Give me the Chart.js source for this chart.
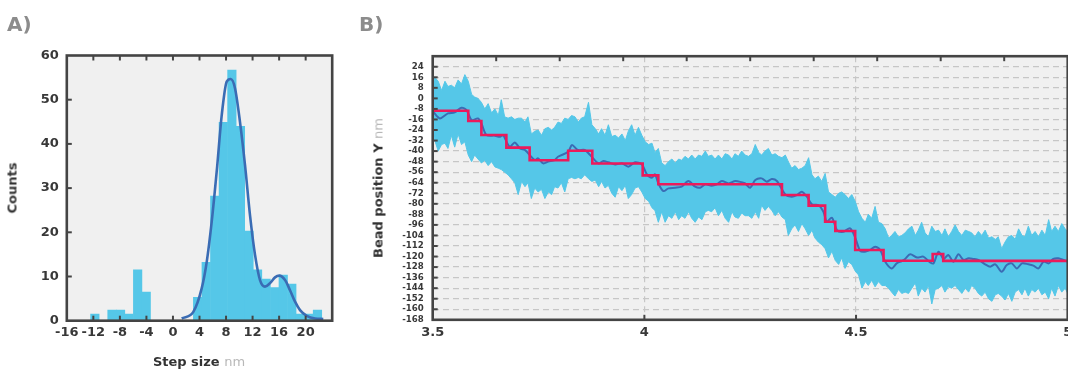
<!DOCTYPE html>
<html lang="en">
<head>
<meta charset="UTF-8">
<title>Step size histogram and bead trace</title>
<style>
  body { margin: 0; width: 1068px; height: 369px; overflow: hidden; background: #fff; position: relative; font-family: 'DejaVu Sans', sans-serif; }
  canvas { position: absolute; top: 0; }
  #histChart { left: 0; }
  #traceChart { left: 340px; }
  .panel { position: absolute; top: 14px; font-size: 20px; line-height: 20px; font-weight: bold; color: #8c8c8c; }
  .title { position: absolute; font-size: 13px; line-height: 13px; font-weight: bold; color: #333; white-space: nowrap; transform: translate(-50%, -50%); }
  .title.rot { transform: translate(-50%, -50%) rotate(-90deg); }
  .title .unit { font-weight: normal; color: #b8b8b8; }
</style>
</head>
<body>
<canvas id="histChart" width="340" height="369"></canvas>
<canvas id="traceChart" width="728" height="369"></canvas>

<div class="panel" style="left:7px">A)</div>
<div class="panel" style="left:359px">B)</div>
<div class="title rot" style="left:12px; top:188px">Counts</div>
<div class="title" style="left:199px; top:361px">Step size <span class="unit">nm</span></div>
<div class="title rot" style="left:378px; top:188px">Bead position Y <span class="unit">nm</span></div>

<script src="https://cdn.jsdelivr.net/npm/chart.js@4.4.1/dist/chart.umd.min.js"></script>
<script>
// ---- panel A: step size histogram + fit
const binCenters = [-11.77, -10.47, -9.19, -7.90, -6.61, -5.32, -4.03, -2.74, -1.45, -0.16, 1.14, 2.43,
  3.72, 5.01, 6.30, 7.59, 8.88, 10.17, 11.46, 12.75, 14.04, 15.33, 16.62, 17.91, 19.20, 20.49, 21.78];
const binCounts = [1.5, 0, 2.4, 2.4, 1.5, 11.5, 6.5, 0, 0, 0, 0, 0,
  5.3, 13.2, 28.2, 44.9, 56.7, 44.0, 20.3, 11.5, 9.4, 7.5, 10.3, 8.3, 1.5, 1.5, 2.4];
const fitX = [1.32, 3.07, 4.33, 5.09, 5.84, 6.59, 7.35, 8.10, 8.70, 9.35, 10.10, 10.86, 11.61,
  12.37, 13.12, 13.87, 14.63, 15.38, 16.03, 16.89, 17.64, 18.40, 19.15, 20.16, 21.41, 22.66];
const fitY = [0.5, 2.0, 7.3, 13.3, 22.4, 33.7, 46.5, 54.1, 54.7, 52.6, 45.0, 35.2, 23.9,
  14.9, 9.2, 7.7, 8.5, 9.8, 10.2, 9.2, 6.9, 4.3, 2.4, 1.1, 0.5, 0.4];

// ---- panel B: bead trace (raw band, smoothed, step fit)
const stepTimes = [3.5, 3.584, 3.615, 3.674, 3.729, 3.820, 3.877, 3.996, 4.033, 4.325, 4.388, 4.427, 4.451, 4.498, 4.565, 4.681, 4.706, 5.0];
const stepLevels = [-9.4, -17.2, -27.8, -37.4, -47.0, -39.7, -49.4, -58.4, -65.2, -73.3, -81.4, -93.6, -100.6, -115.0, -123.2, -118.1, -123.3, -123.3];

const smoothTimes = [3.501, 3.517, 3.536, 3.552, 3.568, 3.580, 3.592, 3.607, 3.615, 3.627,
  3.647, 3.659, 3.666, 3.682, 3.694, 3.706, 3.718, 3.741, 3.749, 3.761,
  3.773, 3.788, 3.796, 3.820, 3.829, 3.843, 3.859, 3.872, 3.892, 3.903,
  3.915, 3.931, 3.947, 3.962, 3.978, 3.994, 4.006, 4.018, 4.025, 4.033,
  4.045, 4.057, 4.073, 4.088, 4.104, 4.120, 4.132, 4.144, 4.159, 4.171,
  4.183, 4.199, 4.215, 4.230, 4.238, 4.250, 4.262, 4.277, 4.289, 4.301,
  4.313, 4.333, 4.348, 4.360, 4.372, 4.384, 4.396, 4.411, 4.423, 4.431,
  4.443, 4.455, 4.470, 4.486, 4.498, 4.510, 4.521, 4.533, 4.545, 4.557,
  4.569, 4.584, 4.596, 4.608, 4.616, 4.628, 4.644, 4.659, 4.675, 4.683,
  4.695, 4.707, 4.718, 4.730, 4.742, 4.754, 4.766, 4.777, 4.789, 4.805,
  4.817, 4.829, 4.844, 4.856, 4.868, 4.880, 4.892, 4.907, 4.919, 4.931,
  4.943, 4.955, 4.966, 4.978, 4.990, 5.000];
const smoothValues = [-10.1, -15.2, -11.4, -10.6, -7.1, -8.9, -16.5, -15.2, -19.0, -27.8,
  -28.3, -29.1, -27.8, -36.7, -33.4, -37.9, -39.2, -46.8, -45.5, -49.3,
  -48.0, -46.8, -44.3, -40.5, -35.4, -39.2, -39.2, -43.0, -49.3, -47.5,
  -48.5, -50.1, -49.3, -51.8, -48.5, -50.1, -57.6, -60.2, -57.6, -64.5,
  -70.3, -68.3, -67.8, -67.0, -62.7, -67.0, -67.8, -65.2, -66.2, -65.2,
  -62.7, -64.5, -62.7, -63.7, -64.5, -67.8, -62.0, -60.7, -63.2, -61.2,
  -62.7, -72.9, -74.6, -73.4, -70.8, -74.6, -80.4, -80.9, -86.0, -93.6,
  -90.5, -99.9, -101.2, -98.6, -105.7, -115.8, -116.3, -115.0, -112.5, -115.0,
  -123.9, -129.0, -125.2, -123.4, -121.8, -118.3, -120.8, -120.1, -124.4, -125.2,
  -116.3, -121.8, -118.8, -123.9, -118.3, -122.6, -121.3, -121.8, -122.6, -125.9,
  -127.7, -125.9, -131.5, -126.4, -125.2, -129.0, -125.2, -125.9, -126.9, -129.0,
  -123.9, -125.2, -121.8, -121.3, -122.6, -123.9];

const bandTimes = [3.500, 3.505, 3.513, 3.521, 3.529, 3.536, 3.544, 3.552, 3.560, 3.568,
  3.576, 3.584, 3.592, 3.599, 3.607, 3.615, 3.623, 3.631, 3.639, 3.647,
  3.655, 3.662, 3.670, 3.678, 3.686, 3.694, 3.702, 3.710, 3.718, 3.725,
  3.733, 3.741, 3.749, 3.757, 3.765, 3.773, 3.781, 3.788, 3.796, 3.804,
  3.812, 3.820, 3.828, 3.836, 3.844, 3.851, 3.859,
  3.868, 3.876, 3.884, 3.892, 3.899, 3.907, 3.915, 3.923, 3.931, 3.939,
  3.947, 3.955, 3.962, 3.970, 3.978, 3.986, 3.994, 4.002, 4.010, 4.018,
  4.025, 4.033, 4.041, 4.049, 4.057, 4.065, 4.073, 4.081, 4.088, 4.096,
  4.104, 4.112, 4.120, 4.128, 4.136, 4.144, 4.151, 4.159, 4.167, 4.175,
  4.183, 4.191, 4.199, 4.207, 4.214, 4.222, 4.230, 4.238,
  4.246, 4.254, 4.262, 4.270, 4.277, 4.285, 4.293, 4.301, 4.309, 4.317,
  4.325, 4.333, 4.340, 4.348, 4.356, 4.364, 4.372, 4.380, 4.388, 4.396,
  4.403, 4.411, 4.419, 4.427, 4.435, 4.443, 4.451, 4.459, 4.466, 4.474,
  4.482, 4.490, 4.498, 4.506, 4.514, 4.522, 4.529, 4.537, 4.545, 4.553,
  4.561, 4.569, 4.577, 4.584, 4.592, 4.600, 4.608, 4.616,
  4.624, 4.632, 4.640, 4.647, 4.655, 4.663, 4.671, 4.679, 4.687, 4.695,
  4.703, 4.710, 4.718, 4.726, 4.734, 4.742, 4.750, 4.758, 4.766, 4.773,
  4.781, 4.789, 4.797, 4.805, 4.813, 4.821, 4.829, 4.836, 4.844, 4.852,
  4.860, 4.868, 4.876, 4.884, 4.892, 4.899, 4.907, 4.915, 4.923, 4.931,
  4.939, 4.947, 4.955, 4.962, 4.970, 4.978, 4.986, 4.994, 5.000];
const bandUpper = [8, 16, 13, 6, 13, 9, 10, 8, 14, 11,
  18, 13, 3, 1, 0, -3, -8, -4, -11, -8,
  -13, -1, -14, -15, -14, -16, -15, -15, -18, -14,
  -27, -25, -24, -28, -23, -22, -24, -22, -18, -19,
  -15, -16, -13, -14, -18, -15, -14,
  -3, -20, -23, -27, -23, -28, -20, -29, -28, -30,
  -27, -32, -25, -20, -28, -22, -28, -33, -35, -34,
  -41, -38, -49, -51, -48, -46, -49, -46, -47, -44,
  -46, -43, -46, -43, -44, -40, -44, -43, -46, -43,
  -46, -42, -43, -46, -42, -44, -40, -43,
  -44, -42, -35, -41, -43, -40, -38, -43, -42, -44,
  -45, -43, -48, -53, -51, -54, -53, -51, -45, -58,
  -61, -59, -63, -57, -71, -73, -75, -72, -71, -73,
  -76, -73, -78, -86, -91, -94, -88, -91, -82, -94,
  -95, -99, -106, -104, -101, -105, -104, -102,
  -99, -97, -104, -100, -94, -102, -105, -97, -101, -100,
  -104, -99, -105, -101, -96, -101, -104, -100, -101, -102,
  -105, -101, -104, -100, -106, -105, -107, -105, -114, -109,
  -105, -104, -107, -99, -104, -105, -97, -104, -101, -105,
  -100, -104, -92, -101, -97, -101, -95, -99, -101];
const bandLower = [-25, -32, -40, -35, -34, -38, -28, -37, -27, -35,
  -33, -43, -48, -43, -46, -49, -47, -51, -48, -52,
  -53, -54, -56, -58, -61, -64, -73, -63, -67, -64,
  -76, -68, -71, -69, -76, -71, -73, -67, -68, -64,
  -71, -61, -60, -61, -60, -61, -58,
  -61, -63, -62, -67, -63, -68, -66, -72, -75, -67,
  -70, -66, -76, -73, -68, -67, -71, -76, -78, -83,
  -85, -94, -86, -94, -89, -91, -86, -92, -89, -91,
  -86, -91, -94, -90, -92, -86, -85, -86, -83, -89,
  -85, -91, -94, -86, -90, -91, -87, -89,
  -89, -91, -86, -91, -81, -85, -82, -85, -89, -86,
  -90, -92, -104, -99, -96, -101, -95, -99, -104, -100,
  -106, -109, -111, -114, -121, -116, -123, -126, -121, -129,
  -124, -126, -131, -134, -144, -139, -142, -138, -143, -139,
  -142, -142, -144, -147, -150, -145, -148, -147,
  -148, -144, -140, -150, -144, -147, -142, -156, -145, -144,
  -142, -147, -143, -144, -142, -145, -148, -144, -147, -142,
  -144, -148, -150, -147, -152, -154, -149, -148, -150, -153,
  -148, -154, -147, -145, -149, -144, -150, -145, -147, -144,
  -149, -147, -152, -144, -150, -142, -147, -144, -148];

const lightBlue = '#55c7e8';
const darkBlue = '#3a6cb4';
const stepRed = '#ec1a5b';

Chart.defaults.font.family = "'DejaVu Sans', sans-serif";
Chart.defaults.font.weight = 'bold';
Chart.defaults.color = '#383838';

const pairs = (xs, ys) => xs.map((x, i) => ({ x: x, y: ys[i] }));

// grey plot background, dark box and inward tick marks
const framePlugin = {
  id: 'frame',
  beforeDraw(chart, args, opts) {
    const { ctx, chartArea: a } = chart;
    ctx.save();
    ctx.fillStyle = opts.background;
    ctx.fillRect(a.left, a.top, a.right - a.left, a.bottom - a.top);
    ctx.restore();
  },
  afterDatasetsDraw(chart, args, opts) {
    const { ctx, chartArea: a } = chart;
    ctx.save();
    ctx.strokeStyle = opts.color;
    ctx.lineWidth = opts.tickWidth;
    const len = opts.tickLength;
    ['top', 'bottom', 'left'].forEach(side => {
      const scale = chart.scales[opts[side]];
      if (!scale) return;
      scale.ticks.forEach(t => {
        const p = scale.getPixelForValue(t.value);
        ctx.beginPath();
        if (side === 'left') {
          if (p < a.top + 2 || p > a.bottom - 2) return;
          ctx.moveTo(a.left, p); ctx.lineTo(a.left + len, p);
        } else {
          if (p < a.left + 2 || p > a.right - 2) return;
          const y = side === 'top' ? a.top : a.bottom;
          ctx.moveTo(p, y); ctx.lineTo(p, side === 'top' ? y + len : y - len);
        }
        ctx.stroke();
      });
    });
    ctx.lineWidth = opts.frameWidth;
    ctx.strokeRect(a.left, a.top, a.right - a.left, a.bottom - a.top);
    ctx.restore();
  }
};

new Chart(document.getElementById('histChart'), {
  type: 'bar',
  data: {
    datasets: [
      { type: 'line', data: pairs(fitX, fitY), borderColor: darkBlue, borderWidth: 2.6,
        pointRadius: 0, tension: 0.4, cubicInterpolationMode: 'monotone', order: 0 },
      { type: 'bar', data: pairs(binCenters, binCounts), backgroundColor: lightBlue,
        barPercentage: 1, categoryPercentage: 1, borderWidth: 0, order: 1 }
    ]
  },
  options: {
    responsive: false,
    animation: false,
    layout: { padding: { top: 55.5, right: 7.8, left: 0, bottom: 0 } },
    plugins: {
      legend: { display: false },
      tooltip: { enabled: false },
      frame: { background: '#f0f0f0', color: '#444', tickWidth: 2, tickLength: 5, frameWidth: 2.6,
        top: 'x', bottom: 'x', left: 'y' }
    },
    scales: {
      x: {
        type: 'linear', offset: false, min: -16, max: 24,
        ticks: { stepSize: 4, padding: 4.5, font: { size: 13 }, maxRotation: 0, minRotation: 0,
          autoSkip: false, callback: v => v === 24 ? '' : String(v) },
        grid: { display: false, drawTicks: false }, border: { display: false },
        afterFit(s) { s.height = 48.3; s.paddingLeft = 0; s.paddingRight = 0; }
      },
      y: {
        min: 0, max: 60,
        ticks: { stepSize: 10, padding: 8, font: { size: 13 } },
        grid: { display: false, drawTicks: false }, border: { display: false },
        afterFit(s) { s.width = 66.8; s.paddingTop = 0; s.paddingBottom = 0; }
      }
    }
  },
  plugins: [framePlugin]
});

const innerOnly = (edges) => (ctx) => edges.includes(ctx.tick.value) ? 'rgba(0,0,0,0)' : '#c6c6c6';

new Chart(document.getElementById('traceChart'), {
  type: 'line',
  data: {
    datasets: [
      { label: 'step fit', data: pairs(stepTimes, stepLevels), xAxisID: 'x', stepped: true,
        borderColor: stepRed, borderWidth: 2.6, pointRadius: 0, fill: false },
      { label: 'smoothed', data: pairs(smoothTimes, smoothValues), xAxisID: 'x',
        borderColor: darkBlue, borderWidth: 2, pointRadius: 0, tension: 0.3, fill: false },
      { label: 'raw low', data: pairs(bandTimes, bandLower), xAxisID: 'x',
        borderColor: lightBlue, borderWidth: 1, pointRadius: 0, fill: false },
      { label: 'raw high', data: pairs(bandTimes, bandUpper), xAxisID: 'x',
        borderColor: lightBlue, borderWidth: 1, pointRadius: 0, fill: '-1', backgroundColor: lightBlue }
    ]
  },
  options: {
    responsive: false,
    animation: false,
    layout: { padding: { top: 56.2, right: 0.3, left: 0, bottom: 0 } },
    plugins: {
      legend: { display: false },
      tooltip: { enabled: false },
      frame: { background: '#f0f0f0', color: '#444', tickWidth: 2, tickLength: 5, frameWidth: 2.6,
        top: 'xTop', bottom: 'x', left: 'y' }
    },
    scales: {
      x: {
        type: 'linear', min: 3.5, max: 5,
        ticks: { stepSize: 0.5, padding: 5.5, font: { size: 13 }, maxRotation: 0, autoSkip: false,
          callback: v => String(v) },
        grid: { drawTicks: false, color: innerOnly([3.5, 5]), lineWidth: 1.2 },
        border: { display: false, dash: [6, 4] },
        afterFit(s) { s.height = 49.2; s.paddingLeft = 0; s.paddingRight = 0; }
      },
      xTop: {
        type: 'linear', position: 'top', min: 3.5, max: 5,
        ticks: { stepSize: 0.15, display: false },
        grid: { display: false, drawTicks: false }, border: { display: false },
        afterFit(s) { s.height = 0; s.paddingLeft = 0; s.paddingRight = 0; }
      },
      y: {
        min: -168, max: 32,
        ticks: { stepSize: 8, padding: 9, font: { size: 8.6 }, autoSkip: false,
          callback: v => v === 32 ? '' : String(v) },
        grid: { drawTicks: false, color: innerOnly([-168, 32]), lineWidth: 1.2 },
        border: { display: false, dash: [6, 4] },
        afterFit(s) { s.width = 92.7; s.paddingTop = 0; s.paddingBottom = 0; }
      }
    }
  },
  plugins: [framePlugin]
});
</script>
</body>
</html>
